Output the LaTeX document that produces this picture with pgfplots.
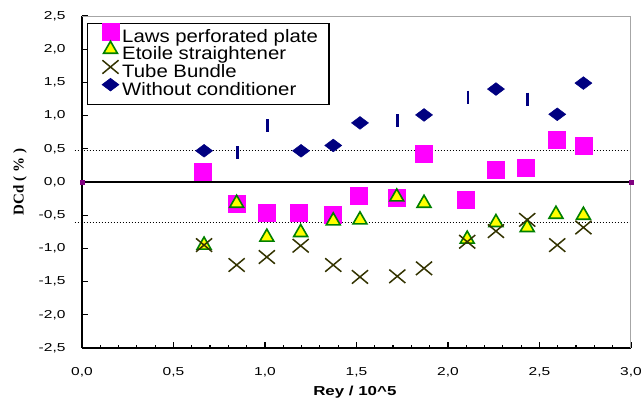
\documentclass[border=0pt]{standalone}
\usepackage{fontspec}
\setmainfont{Liberation Sans}
\newfontfamily\tickfont{Liberation Sans}[FakeStretch=1.35]
\newfontfamily\legfont{Liberation Sans}[FakeStretch=1.13]
\newfontfamily\xlabfont{Liberation Sans Bold}[FakeStretch=1.3]
\newfontfamily\ylabfont{Liberation Serif Bold}
\usepackage{pgfplots}
\pgfplotsset{compat=1.18}
\definecolor{navyc}{HTML}{000080}
\definecolor{magc}{HTML}{FF00FF}
\definecolor{ylwc}{HTML}{FFFF00}
\definecolor{grnc}{HTML}{008000}
\definecolor{olvc}{HTML}{333300}
\definecolor{purc}{HTML}{800080}
\begin{document}
\begin{tikzpicture}
\useasboundingbox (-82pt,-56pt) rectangle (561pt,348pt);
\begin{axis}[
  scale only axis, width=549pt, height=332pt,
  xmin=0, xmax=3, ymin=-2.5, ymax=2.5,
  clip=false,
  axis x line*=bottom, axis y line*=left,
  axis line style={-, black, line width=2pt},
  xtick={0,0.5,1,1.5,2,2.5,3}, ytick={-2.5,-2,-1.5,-1,-0.5,0,0.5,1,1.5,2,2.5},
  minor x tick num=4,
  tick align=inside,
  major tick length=6pt, minor tick length=3pt,
  tick style={black, line width=1.2pt},
  /pgf/number format/fixed, /pgf/number format/fixed zerofill,
  /pgf/number format/precision=1, /pgf/number format/use comma,
  /pgf/number format/assume math mode=true,
  tick label style={font=\tickfont\fontsize{11.5}{13}\selectfont},
  xticklabel style={yshift=-16pt},
  yticklabel style={xshift=-13pt},
  xlabel={Rey / 10\textasciicircum 5},
  xlabel style={at={(axis description cs:0.497,0)}, anchor=base, yshift=-48pt, font=\xlabfont\fontsize{13}{15}\selectfont},
  ylabel={DCd ( \% )},
  ylabel style={at={(axis description cs:-0.113,0.5)}, anchor=center, font=\ylabfont\fontsize{15}{17}\selectfont},
  legend style={at={(axis description cs:0.0091,0.979)}, anchor=north west, draw=black, line width=1.5pt,
    inner xsep=5pt, inner ysep=5pt, font=\legfont\fontsize{18}{18}\selectfont,
    nodes={inner ysep=0pt, inner xsep=1pt, text height=13.5pt, text depth=4.2pt}, row sep=0pt},
  legend cell align=left,
  legend image code/.code={\path (0pt,0pt) (27pt,0pt); \draw[#1, overlay] plot coordinates {(17pt,6pt)};},
]
% reference lines
\addplot[forget plot, black, line width=1.5pt] coordinates {(0,0) (3,0)};
\addplot[forget plot, black, line width=1pt, dash pattern=on 1pt off 2pt] coordinates {(-0.04,0.47) (3,0.47)};
\addplot[forget plot, black, line width=1pt, dash pattern=on 1pt off 2pt] coordinates {(-0.04,-0.61) (3,-0.61)};
\addplot[forget plot, only marks, mark=square*, mark size=1.8pt, color=purc] coordinates {(0,0) (3,0)};
\draw[gray!70, line width=1pt] (rel axis cs:0,1) -- (rel axis cs:1,1) -- (rel axis cs:1,0);

\addplot[only marks, mark=square*, mark size=8.5pt, color=magc, mark options={line width=0.5pt}] coordinates {
 (0.661,0.16) (0.843,-0.33) (1.007,-0.46) (1.187,-0.47) (1.37,-0.50) (1.515,-0.21)
 (1.72,-0.235) (1.865,0.42) (2.098,-0.27) (2.259,0.19) (2.426,0.215) (2.594,0.64) (2.74,0.55)};
\addlegendentry{Laws perforated plate\hspace*{5pt}}
\addplot[only marks, mark=triangle*, mark size=8pt, mark options={fill=ylwc, draw=grnc, line width=1.6pt}] coordinates {
 (0.667,-0.95) (0.845,-0.32) (1.01,-0.83) (1.195,-0.76) (1.373,-0.585) (1.519,-0.57)
 (1.72,-0.225) (1.869,-0.32) (2.105,-0.86) (2.262,-0.61) (2.433,-0.685) (2.59,-0.485) (2.74,-0.50)};
\addlegendentry{Etoile straightener}
\addplot[only marks, mark=x, mark size=9.5pt, color=olvc, mark options={xscale=1.2, line width=1.5pt}] coordinates {
 (0.667,-0.95) (0.845,-1.25) (1.01,-1.13) (1.195,-0.96) (1.373,-1.25) (1.519,-1.43)
 (1.723,-1.42) (1.869,-1.30) (2.105,-0.90) (2.262,-0.74) (2.433,-0.57) (2.597,-0.95) (2.74,-0.685)};
\addlegendentry{Tube Bundle}
\addplot[only marks, mark=diamond*, mark size=8.5pt, color=navyc, mark options={rotate=90, line width=0.5pt}] coordinates {
 (0.667,0.47) (1.197,0.47) (1.373,0.55) (1.519,0.89) (1.869,1.01) (2.262,1.40) (2.597,1.02) (2.74,1.49)};
\addlegendentry{Without conditioner}
\addplot[forget plot, only marks, mark=|, mark size=6.5pt, color=navyc, mark options={line width=2.5pt}] coordinates {
 (0.849,0.44) (1.015,0.85) (1.725,0.92) (2.108,1.28) (2.435,1.25)};
\end{axis}
\end{tikzpicture}
\end{document}
